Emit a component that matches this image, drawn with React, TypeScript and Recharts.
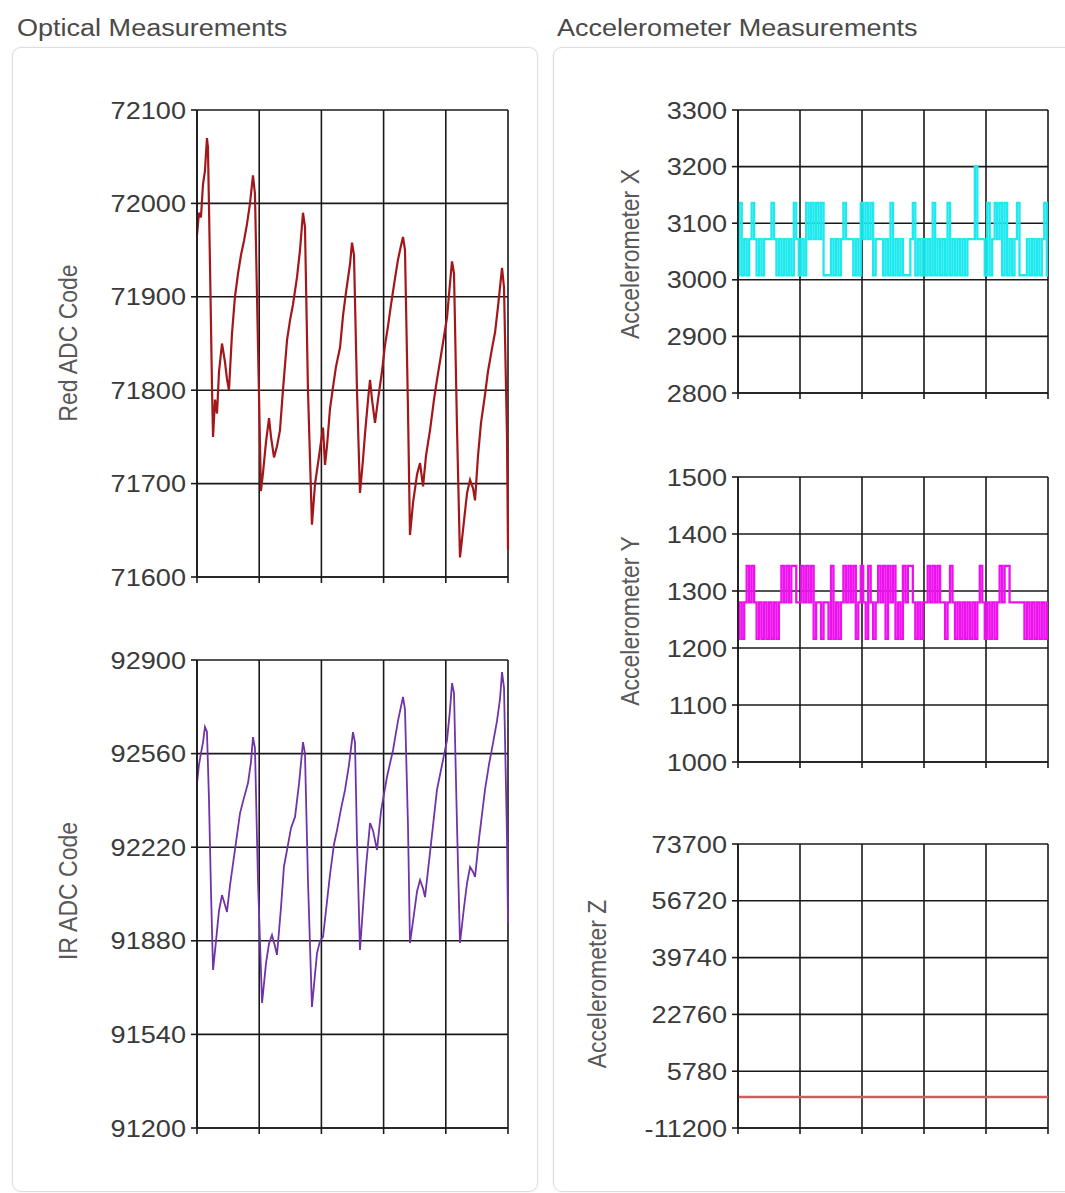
import React from 'react';
import { LineChart, Line, XAxis, YAxis, CartesianGrid } from 'recharts';

// sample times (0..250 spans the five grid divisions)
const timeTicks = [0, 50, 100, 150, 200, 250];

// Red ADC trace
const redTime = [
  0, 1.6, 3.2, 4.8, 6.4, 8.0, 8.8, 10.5, 12.1, 12.9, 14.5, 16.1, 17.7, 20.1, 22.5, 24.1, 25.7, 28.1, 30.5, 33.0,
  35.4, 37.8, 40.2, 42.6, 45.0, 46.6, 49.0, 51.4, 53.1, 55.5, 57.9, 59.5, 61.9, 64.3, 66.7, 69.1, 72.4, 74.8, 77.2, 80.4,
  82.8, 85.2, 86.8, 89.2, 92.4, 94.9, 97.3, 99.7, 101.3, 102.9, 104.5, 106.9, 109.3, 111.7, 115.0, 117.4, 119.8, 123.0, 124.6, 126.2,
  128.6, 131.0, 133.4, 135.1, 137.5, 139.1, 140.7, 143.1, 145.5, 148.7, 151.1, 153.5, 156.0, 159.2, 161.6, 164.0, 165.6, 167.2, 169.6, 171.2,
  173.7, 176.9, 179.3, 181.7, 184.1, 187.3, 190.5, 192.9, 196.2, 198.6, 201.0, 203.4, 205.0, 206.6, 209.0, 211.4, 213.8, 217.1, 219.5, 221.9,
  223.5, 225.9, 228.3, 231.5, 233.9, 237.2, 239.6, 242.0, 245.2, 246.8, 249.2, 250.0,
];
const redCode = [
  71966, 71990, 71985, 72020, 72035, 72070, 72060, 71930, 71800, 71750, 71790, 71775, 71820, 71850, 71830, 71812, 71800, 71860, 71900, 71925,
  71945, 71960, 71978, 72000, 72030, 72010, 71850, 71692, 71712, 71745, 71770, 71750, 71728, 71740, 71757, 71800, 71854, 71875, 71892, 71921,
  71950, 71990, 71975, 71800, 71656, 71700, 71722, 71745, 71760, 71720, 71740, 71780, 71803, 71825, 71846, 71880, 71905, 71935, 71958, 71945,
  71800, 71690, 71725, 71754, 71790, 71811, 71790, 71765, 71790, 71820, 71848, 71868, 71892, 71920, 71940, 71955, 71964, 71950, 71780, 71645,
  71680, 71710, 71722, 71697, 71730, 71757, 71790, 71811, 71838, 71858, 71878, 71915, 71938, 71925, 71760, 71621, 71650, 71690, 71704, 71695,
  71682, 71730, 71765, 71795, 71820, 71845, 71862, 71890, 71931, 71910, 71750, 71629,
];

// IR ADC trace
const irTime = [
  0, 1.6, 3.2, 4.8, 6.4, 8.0, 9.6, 11.3, 12.9, 15.3, 17.7, 20.1, 22.5, 24.1, 26.5, 30.5, 34.6, 37.8, 41.0, 43.4,
  45.0, 46.6, 49.0, 52.3, 55.5, 57.9, 60.3, 62.7, 64.3, 67.5, 69.9, 72.4, 75.6, 78.8, 82.0, 85.2, 86.8, 89.2, 92.4, 94.9,
  96.5, 98.9, 101.3, 103.7, 106.9, 110.1, 112.6, 115.8, 119.0, 122.2, 125.4, 127.0, 128.6, 131.0, 133.4, 135.9, 139.1, 141.5, 144.7, 147.9,
  152.7, 157.6, 161.6, 165.6, 167.2, 169.6, 171.2, 174.5, 176.9, 179.3, 181.7, 183.3, 187.3, 190.5, 192.9, 197.0, 201.0, 203.4, 205.0, 206.6,
  209.0, 211.4, 214.6, 217.1, 219.5, 221.9, 223.5, 226.7, 231.5, 234.7, 238.0, 241.2, 243.6, 245.2, 246.8, 249.2, 250.0,
];
const irCode = [
  92453, 92520, 92562, 92600, 92657, 92640, 92400, 92050, 91774, 91880, 91990, 92046, 92010, 91985, 92080, 92210, 92344, 92400, 92453, 92530,
  92620, 92580, 92100, 91654, 91800, 91870, 91901, 91860, 91829, 92000, 92150, 92210, 92290, 92330, 92450, 92602, 92560, 92100, 91640, 91760,
  91836, 91880, 91894, 91990, 92120, 92230, 92283, 92360, 92428, 92520, 92638, 92600, 92250, 91847, 92000, 92150, 92308, 92280, 92210, 92350,
  92475, 92573, 92680, 92766, 92720, 92300, 91872, 91980, 92060, 92101, 92070, 92039, 92200, 92330, 92428, 92520, 92609, 92720, 92816, 92780,
  92300, 91872, 92000, 92090, 92148, 92130, 92112, 92250, 92428, 92520, 92599, 92680, 92760, 92856, 92800, 92250, 91945,
];

// accelerometer samples, one every 2 time units
const accelX = [
  3008, 3136, 3008, 3072, 3008, 3072, 3136, 3072, 3008, 3072, 3008, 3072, 3072, 3072, 3136, 3072, 3008, 3072, 3008, 3072,
  3008, 3072, 3008, 3136, 3072, 3008, 3072, 3008, 3136, 3072, 3136, 3072, 3136, 3072, 3136, 3008, 3008, 3008, 3072, 3008,
  3072, 3008, 3072, 3136, 3072, 3072, 3072, 3008, 3072, 3008, 3136, 3072, 3136, 3072, 3136, 3008, 3072, 3072, 3072, 3008,
  3072, 3008, 3136, 3008, 3072, 3008, 3072, 3008, 3008, 3008, 3072, 3136, 3008, 3072, 3008, 3072, 3008, 3072, 3008, 3136,
  3008, 3072, 3008, 3072, 3008, 3136, 3008, 3072, 3008, 3072, 3008, 3072, 3008, 3072, 3072, 3072, 3200, 3072, 3072, 3072,
  3008, 3136, 3008, 3072, 3136, 3072, 3136, 3008, 3136, 3008, 3072, 3008, 3072, 3136, 3008, 3008, 3008, 3072, 3008, 3072,
  3008, 3072, 3008, 3072, 3136, 3008,
];
const accelY = [
  1216, 1280, 1216, 1280, 1344, 1280, 1344, 1280, 1216, 1280, 1216, 1280, 1216, 1280, 1216, 1280, 1216, 1280, 1344, 1280,
  1344, 1280, 1344, 1344, 1280, 1280, 1344, 1280, 1344, 1280, 1344, 1216, 1280, 1280, 1216, 1280, 1280, 1216, 1344, 1216,
  1280, 1216, 1280, 1344, 1280, 1344, 1280, 1344, 1216, 1280, 1344, 1280, 1216, 1344, 1280, 1216, 1280, 1344, 1280, 1344,
  1216, 1344, 1280, 1344, 1216, 1280, 1216, 1344, 1280, 1344, 1344, 1280, 1216, 1280, 1216, 1280, 1280, 1344, 1280, 1344,
  1280, 1344, 1280, 1280, 1216, 1280, 1344, 1280, 1216, 1280, 1216, 1280, 1216, 1280, 1216, 1280, 1216, 1280, 1344, 1280,
  1216, 1280, 1216, 1280, 1216, 1280, 1344, 1280, 1344, 1344, 1280, 1280, 1280, 1280, 1280, 1280, 1216, 1280, 1216, 1280,
  1216, 1280, 1216, 1280, 1216, 1280,
];
const accelZ = [-1950, -1950, -1950, -1950, -1950, -1950, -1950, -1950, -1950, -1950, -1950];

const redTicks = [72100, 72000, 71900, 71800, 71700, 71600];
const irTicks = [92900, 92560, 92220, 91880, 91540, 91200];
const accelXTicks = [3300, 3200, 3100, 3000, 2900, 2800];
const accelYTicks = [1500, 1400, 1300, 1200, 1100, 1000];
const accelZTicks = [73700, 56720, 39740, 22760, 5780, -11200];

const FONT = '"Liberation Sans", Arial, sans-serif';
const GRID = '#1a1a1a';

const redData = redTime.map((t, i) => ({ t, v: redCode[i] }));
const irData = irTime.map((t, i) => ({ t, v: irCode[i] }));
const accelXData = accelX.map((v, i) => ({ t: i * 2, v }));
const accelYData = accelY.map((v, i) => ({ t: i * 2, v }));
const accelZData = accelZ.map((v, i) => ({ t: i * 25, v }));

// tick text is a bit wide in the screenshot, so stretch it horizontally
const WideTick = ({ x, y, payload }: any) => (
  <g transform={`translate(${x},${y})`}>
    <text textAnchor="end" dy="0.36em" transform="scale(1.13,1)" fill="#3a3a3a" fontSize={24} fontFamily={FONT}>
      {payload.value}
    </text>
  </g>
);

function Trace({ left, top, width, height, data, ticks, color, strokeWidth, type }: any) {
  const axisW = 112;
  return (
    <div style={{ position: 'absolute', left: left - axisW, top: top - 15 }}>
      <LineChart
        width={axisW + width + 15}
        height={15 + height + 20}
        data={data}
        margin={{ top: 15, right: 15, bottom: 0, left: 0 }}
      >
        <CartesianGrid stroke={GRID} strokeWidth={1.6} />
        <XAxis
          dataKey="t"
          type="number"
          domain={[0, 250]}
          ticks={timeTicks}
          tickFormatter={() => ''}
          tickSize={6}
          height={20}
          axisLine={{ stroke: GRID, strokeWidth: 1.6 }}
          tickLine={{ stroke: GRID, strokeWidth: 1.6 }}
        />
        <YAxis
          type="number"
          domain={[ticks[ticks.length - 1], ticks[0]]}
          ticks={ticks}
          interval={0}
          width={axisW}
          tickSize={6}
          tickMargin={5}
          tick={<WideTick />}
          axisLine={{ stroke: GRID, strokeWidth: 1.6 }}
          tickLine={{ stroke: GRID, strokeWidth: 1.6 }}
          allowDataOverflow
        />
        <Line
          dataKey="v"
          type={type || 'linear'}
          stroke={color}
          strokeWidth={strokeWidth}
          dot={false}
          isAnimationActive={false}
        />
      </LineChart>
    </div>
  );
}

const AxisLabel = ({ x, y, text, size = 23 }: any) => (
  <div
    style={{
      position: 'absolute',
      left: x,
      top: y,
      whiteSpace: 'nowrap',
      fontFamily: FONT,
      fontSize: size,
      lineHeight: '26px',
      color: '#585858',
      transform: 'translate(-50%,-50%) scaleX(1.15) rotate(-90deg)',
    }}
  >
    {text}
  </div>
);

const Title = ({ x, text }: any) => (
  <div
    style={{
      position: 'absolute',
      left: x,
      top: 14,
      whiteSpace: 'nowrap',
      fontFamily: FONT,
      fontSize: 23.5,
      lineHeight: '28px',
      color: '#4a4a4a',
      transform: 'scaleX(1.15)',
      transformOrigin: 'left center',
    }}
  >
    {text}
  </div>
);

const panelStyle: React.CSSProperties = {
  position: 'absolute',
  top: 47,
  height: 1143,
  border: '1.5px solid #dedede',
  borderRadius: 9,
  background: '#fff',
  boxShadow: '0 0 3px rgba(0,0,0,0.06)',
};

export default function App() {
  return (
    <div style={{ position: 'absolute', left: 0, top: 0, width: 1065, height: 1193, overflow: 'hidden', background: '#fff' }}>
      <Title x={17} text="Optical Measurements" />
      <Title x={557} text="Accelerometer Measurements" />
      <div style={{ ...panelStyle, left: 12, width: 524 }} />
      <div style={{ ...panelStyle, left: 553, width: 540 }} />

      <AxisLabel x={68} y={343} text="Red ADC Code" />
      <AxisLabel x={68} y={891} text="IR ADC Code" />
      <AxisLabel x={630} y={254} text="Accelerometer X" />
      <AxisLabel x={630} y={621} text="Accelerometer Y" />
      <AxisLabel x={597} y={984} text="Accelerometer Z" />

      <Trace left={197} top={110} width={311} height={467} data={redData} ticks={redTicks} color="#a3171b" strokeWidth={2.2} />
      <Trace left={197} top={660} width={311} height={468} data={irData} ticks={irTicks} color="#7034a8" strokeWidth={1.8} />
      <Trace left={738} top={110} width={310} height={283} data={accelXData} ticks={accelXTicks} color="#1de9ee" strokeWidth={2.3} type="step" />
      <Trace left={738} top={477} width={310} height={285} data={accelYData} ticks={accelYTicks} color="#ee10ee" strokeWidth={2.3} type="step" />
      <Trace left={738} top={844} width={310} height={284} data={accelZData} ticks={accelZTicks} color="#d05c5c" strokeWidth={2.5} />
    </div>
  );
}
